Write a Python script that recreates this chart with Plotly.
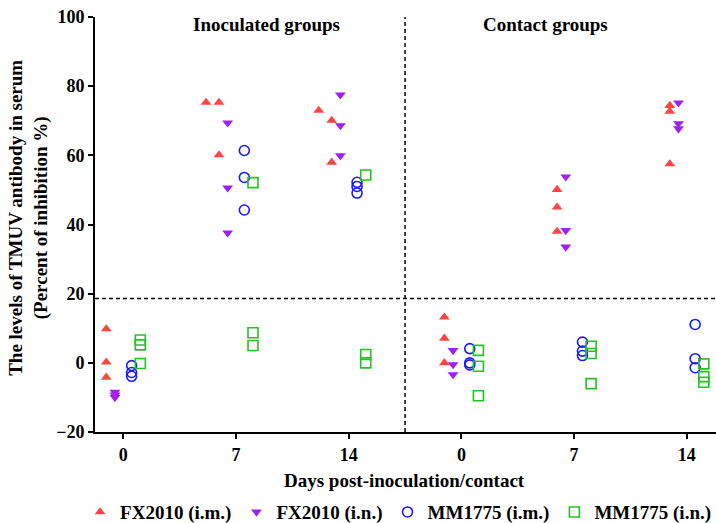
import plotly.graph_objects as go

# Group positions: inoculated days 0, 7, 14 then contact days 0, 7, 14
group_labels = ["0", "7", "14", "0", "7", "14"]
group_pos = [0, 1, 2, 3, 4, 5]

series_names = ["FX2010 (i.m.)", "FX2010 (i.n.)", "MM1775 (i.m.)", "MM1775 (i.n.)"]

# Percent of inhibition values per group
fx2010_im = [[9.8, 0.2, -4.2], [75.3, 75.3, 60.1], [73.0, 70.1, 58.0],
             [13.2, 7.1, 0.0], [50.1, 45.0, 38.0], [74.4, 72.7, 57.5]]
fx2010_in = [[-8.5, -9.3, -10.0], [69.4, 50.6, 37.6], [77.5, 68.6, 59.9],
             [3.6, -0.5, -3.4], [53.8, 38.3, 33.5], [75.2, 69.2, 67.7]]
mm1775_im = [[-0.8, -2.8, -3.9], [61.4, 53.6, 44.2], [52.2, 51.0, 49.1],
             [4.1, 0.0, -0.6], [6.0, 3.4, 2.1], [11.1, 1.2, -1.4]]
mm1775_in = [[6.6, 5.2, -0.2], [52.1, 8.7, 5.0], [54.3, 2.4, 0.0],
             [3.6, -1.0, -9.5], [4.8, 2.7, -6.0], [-0.3, -4.0, -5.6]]

# Horizontal dodge of overlapping points (scatter-dot layout), in group units
fx2010_im_dodge = [[0, 0, 0], [-0.115, 0, 0], [-0.115, 0, 0],
                   [0, 0, 0], [0, 0, 0], [0, 0, 0]]

cutoff = 18.6

series_values = [fx2010_im, fx2010_in, mm1775_im, mm1775_in]
series_offsets = [-0.151, -0.074, 0.074, 0.151]
series_dodges = [fx2010_im_dodge, None, None, None]
series_colors = ["#FF4444", "#A020F0", "#1A1AFF", "#22C322"]
series_symbols = ["triangle-up", "triangle-down", "circle-open", "square-open"]
series_sizes = [9.5, 9.5, 10, 10]

fig = go.Figure()
for name, vals, off, dodge, col, sym, sz in zip(series_names, series_values, series_offsets,
                                                 series_dodges, series_colors, series_symbols,
                                                 series_sizes):
    xs, ys = [], []
    for gi, g in enumerate(vals):
        for pi, v in enumerate(g):
            d = dodge[gi][pi] if dodge else 0
            xs.append(group_pos[gi] + off + d)
            ys.append(v)
    marker = dict(symbol=sym, size=sz, color=col)
    if "open" in sym:
        marker["line"] = dict(color=col, width=1.6)
    fig.add_trace(go.Scatter(x=xs, y=ys, mode="markers", name=name, marker=marker,
                             hoverinfo="x+y"))

font_family = "Liberation Serif, Times New Roman, serif"

fig.add_shape(type="line", xref="x", yref="y", x0=2.5, x1=2.5, y0=-20, y1=100,
              line=dict(color="black", width=1.5, dash="4px,3px"))
fig.add_shape(type="line", xref="paper", yref="y", x0=0, x1=1, y0=cutoff, y1=cutoff,
              line=dict(color="black", width=1.5, dash="4px,3px"))

fig.add_annotation(text="<b>Inoculated groups</b>", x=1.275, xref="x", y=0.981, yref="paper",
                   showarrow=False, xanchor="center", yanchor="middle",
                   font=dict(family=font_family, size=19, color="black"))
fig.add_annotation(text="<b>Contact groups</b>", x=3.742, xref="x", y=0.981, yref="paper",
                   showarrow=False, xanchor="center", yanchor="middle",
                   font=dict(family=font_family, size=19, color="black"))
fig.add_annotation(text="<b>Days post-inoculation/contact</b>", x=0.499, xref="paper",
                   y=-0.118, yref="paper", showarrow=False, xanchor="center", yanchor="middle",
                   font=dict(family=font_family, size=19, color="black"))
fig.add_annotation(text="<b>The levels of TMUV antibody in serum<br>(Percent of inhibition %)</b>",
                   x=-0.107, xref="paper", y=0.515, yref="paper", textangle=-90,
                   showarrow=False, xanchor="center", yanchor="middle",
                   font=dict(family=font_family, size=19, color="black"))

fig.update_layout(
    width=716, height=523,
    margin=dict(l=95, r=0, t=17, b=91, autoexpand=False),
    paper_bgcolor="white", plot_bgcolor="white",
    font=dict(family=font_family, size=18, color="black"),
    showlegend=True,
    legend=dict(orientation="h", xref="paper", yref="paper",
                x=-0.024, xanchor="left", y=-0.193, yanchor="middle",
                font=dict(family=font_family, size=19, color="black", weight="bold"),
                bgcolor="rgba(0,0,0,0)", borderwidth=0),
    xaxis=dict(range=[-0.251, 5.259], tickmode="array", tickvals=group_pos,
               ticktext=group_labels, showline=True, linecolor="black", linewidth=2,
               ticks="outside", ticklen=5, tickwidth=2, tickcolor="black",
               showgrid=False, zeroline=False,
               tickfont=dict(family=font_family, size=18, color="black", weight="bold")),
    yaxis=dict(range=[-20, 100], tickmode="array", tickvals=[-20, 0, 20, 40, 60, 80, 100],
               showline=True, linecolor="black", linewidth=2,
               ticks="outside", ticklen=5, tickwidth=2, tickcolor="black",
               showgrid=False, zeroline=False,
               tickfont=dict(family=font_family, size=18, color="black", weight="bold")),
)

fig.write_html("out.html")
